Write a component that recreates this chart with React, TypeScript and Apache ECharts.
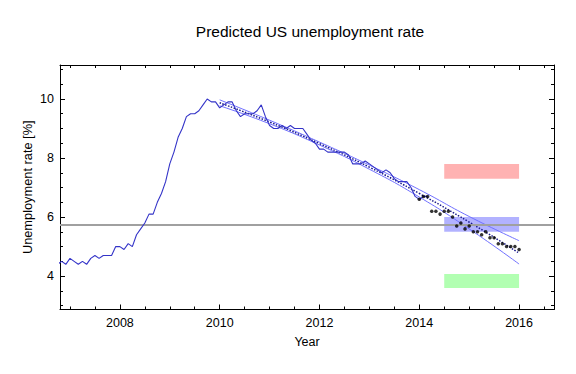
import { useEffect, useRef } from "react";
import * as echarts from "echarts";

// Monthly unemployment rate, starting Oct 2006
const rateStartYear = 2006;
const rateStartMonth = 10;
const unemploymentRate = [
  4.4, 4.5, 4.4,
  4.6, 4.5, 4.4, 4.5, 4.4, 4.6, 4.7, 4.6, 4.7, 4.7, 4.7, 5.0,
  5.0, 4.9, 5.1, 5.0, 5.4, 5.6, 5.8, 6.1, 6.1, 6.5, 6.8, 7.2,
  7.8, 8.2, 8.7, 9.0, 9.4, 9.5, 9.5, 9.6, 9.8, 10.0, 9.9, 9.9,
  9.7, 9.8, 9.9, 9.9, 9.6, 9.4, 9.5, 9.5, 9.5, 9.6, 9.8, 9.4,
  9.1, 9.0, 9.0, 9.1, 9.0, 9.1, 9.0, 9.0, 9.0, 8.8, 8.6, 8.5,
  8.3, 8.3, 8.2, 8.2, 8.2, 8.2, 8.2, 8.1, 7.8, 7.8, 7.8, 7.9,
  7.8, 7.7, 7.6, 7.5, 7.6, 7.5, 7.3, 7.2, 7.2, 7.2, 7.0, 6.7,
  6.6, 6.7, 6.7,
];

// Later observed values (black points), starting Jan 2014
const observedStartYear = 2014;
const observedStartMonth = 1;
const observedRate = [
  6.6, 6.7, 6.7, 6.2, 6.2, 6.1, 6.2, 6.2, 6.0, 5.7, 5.8, 5.6,
  5.7, 5.5, 5.5, 5.4, 5.5, 5.3, 5.3, 5.1, 5.1, 5.0, 5.0, 5.0, 4.9,
];

// Fitted trend and its band
const fitYears = [2010, 2011, 2012, 2013, 2014, 2015, 2016];
const fitCenter = [9.87, 9.22, 8.49, 7.69, 6.8, 5.83, 4.78];
const fitUpper = [9.97, 9.28, 8.54, 7.76, 6.93, 6.02, 5.2];
const fitLower = [9.77, 9.16, 8.44, 7.62, 6.68, 5.6, 4.41];

// Reference level and scenario ranges
const referenceLevel = 5.75;
const scenarioYears = [2014.5, 2016];
const scenarioHigh = [7.3, 7.8];
const scenarioMid = [5.5, 6.0];
const scenarioLow = [3.6, 4.07];

// Axes
const xRange = [2006.8, 2016.7];
const yRange = [2.87, 11.15];
const xMajorTicks = [2008, 2010, 2012, 2014, 2016];
const xMinorTicks = [2007, 2007.5, 2008.5, 2009, 2009.5, 2010.5, 2011, 2011.5, 2012.5, 2013, 2013.5, 2014.5, 2015, 2015.5, 2016.5];
const yMajorTicks = [4, 6, 8, 10];
const yMinorTicks = [3, 3.5, 4.5, 5, 5.5, 6.5, 7, 7.5, 8.5, 9, 9.5, 10.5, 11];

const titleText = "Predicted US unemployment rate";
const xName = "Year";
const yName = "Unemployment rate [%]";

const FONT = "'Liberation Sans', Arial, sans-serif";

const monthlyPoints = (y0: number, m0: number, vals: number[]) =>
  vals.map((v, i) => {
    const idx = m0 - 1 + i;
    return [y0 + Math.floor(idx / 12) + (idx % 12) / 12, v];
  });

const pairs = (xs: number[], ys: number[]) => xs.map((x, i) => [x, ys[i]]);

export default function App() {
  const ref = useRef<HTMLDivElement>(null);
  useEffect(() => {
    if (!ref.current) return;
    const chart = echarts.init(ref.current, null, { renderer: "svg" });
    const axisLine = { show: true, lineStyle: { color: "#000", width: 1 } };
    const plain = (v: number) => String(v);
    const mkX = (position: string, ticks: number[], len: number, labels: boolean, line: boolean) => ({
      type: "value",
      position,
      min: xRange[0],
      max: xRange[1],
      axisLine: { ...axisLine, show: line },
      axisTick: { show: true, inside: true, length: len, customValues: ticks, lineStyle: { color: "#000" } },
      axisLabel: labels
        ? { show: true, customValues: ticks, formatter: plain, color: "#000", fontSize: 12.5, fontFamily: FONT, margin: 7 }
        : { show: false },
      splitLine: { show: false },
    });
    const mkY = (position: string, ticks: number[], len: number, labels: boolean, line: boolean) => ({
      type: "value",
      position,
      min: yRange[0],
      max: yRange[1],
      axisLine: { ...axisLine, show: line },
      axisTick: { show: true, inside: true, length: len, customValues: ticks, lineStyle: { color: "#000" } },
      axisLabel: labels
        ? { show: true, customValues: ticks, formatter: plain, color: "#000", fontSize: 12.5, fontFamily: FONT, margin: 6 }
        : { show: false },
      splitLine: { show: false },
    });
    const xAxes: any[] = [
      { ...mkX("bottom", xMajorTicks, 5, true, true), name: xName, nameLocation: "middle", nameGap: 26,
        nameMoveOverlap: false,
        nameTextStyle: { color: "#000", fontSize: 12.5, fontFamily: FONT } },
      mkX("bottom", xMinorTicks, 3, false, false),
      mkX("top", xMajorTicks, 5, false, true),
      mkX("top", xMinorTicks, 3, false, false),
    ];
    const yAxes: any[] = [
      { ...mkY("left", yMajorTicks, 5, true, true), name: yName, nameLocation: "middle", nameGap: 26,
        nameMoveOverlap: false,
        nameTextStyle: { color: "#000", fontSize: 12.8, fontFamily: FONT } },
      mkY("left", yMinorTicks, 3, false, false),
      mkY("right", yMajorTicks, 5, false, true),
      mkY("right", yMinorTicks, 3, false, false),
    ];
    const rect = (r: number[], color: string) => [
      { coord: [scenarioYears[0], r[1]], itemStyle: { color } },
      { coord: [scenarioYears[1], r[0]] },
    ];
    chart.setOption({
      animation: false,
      title: {
        text: titleText,
        left: 305,
        top: 18,
        textAlign: "center",
        textStyle: { color: "#000", fontSize: 15.5, fontWeight: "normal", fontFamily: FONT },
      },
      grid: { left: 60, right: 22, top: 65, bottom: 64.5, containLabel: false },
      xAxis: xAxes,
      yAxis: yAxes,
      series: [
        {
          type: "line",
          data: [],
          z: 1,
          silent: true,
          markLine: {
            symbol: "none",
            silent: true,
            label: { show: false },
            lineStyle: { color: "#a0a0a0", width: 2, type: "solid" },
            data: [{ yAxis: referenceLevel }],
          },
        },
        {
          type: "line",
          data: [],
          z: 2,
          silent: true,
          markArea: {
            silent: true,
            label: { show: false },
            data: [
              rect(scenarioHigh, "rgba(255,0,0,0.3)"),
              rect(scenarioMid, "rgba(0,0,255,0.3)"),
              rect(scenarioLow, "rgba(0,255,0,0.3)"),
            ],
          },
        },
        {
          type: "line",
          data: pairs(fitYears, fitUpper),
          smooth: true,
          symbol: "none",
          z: 3,
          lineStyle: { color: "#7070ff", width: 1 },
        },
        {
          type: "line",
          data: pairs(fitYears, fitLower),
          smooth: true,
          symbol: "none",
          z: 3,
          lineStyle: { color: "#7070ff", width: 1 },
        },
        {
          type: "line",
          data: pairs(fitYears, fitCenter),
          smooth: true,
          symbol: "none",
          z: 4,
          lineStyle: { color: "#1a1a8c", width: 1.5, type: [1.5, 1.5] },
        },
        {
          type: "line",
          data: monthlyPoints(rateStartYear, rateStartMonth, unemploymentRate),
          symbol: "none",
          z: 5,
          lineStyle: { color: "#3434c8", width: 1.1 },
        },
        {
          type: "scatter",
          data: monthlyPoints(observedStartYear, observedStartMonth, observedRate),
          symbol: "circle",
          symbolSize: 3.5,
          z: 6,
          itemStyle: { color: "#000" },
        },
      ],
    });
    return () => chart.dispose();
  }, []);
  return (
    <div
      ref={ref}
      style={{ position: "fixed", left: 0, top: 0, width: 576, height: 374, background: "#fff" }}
    />
  );
}
